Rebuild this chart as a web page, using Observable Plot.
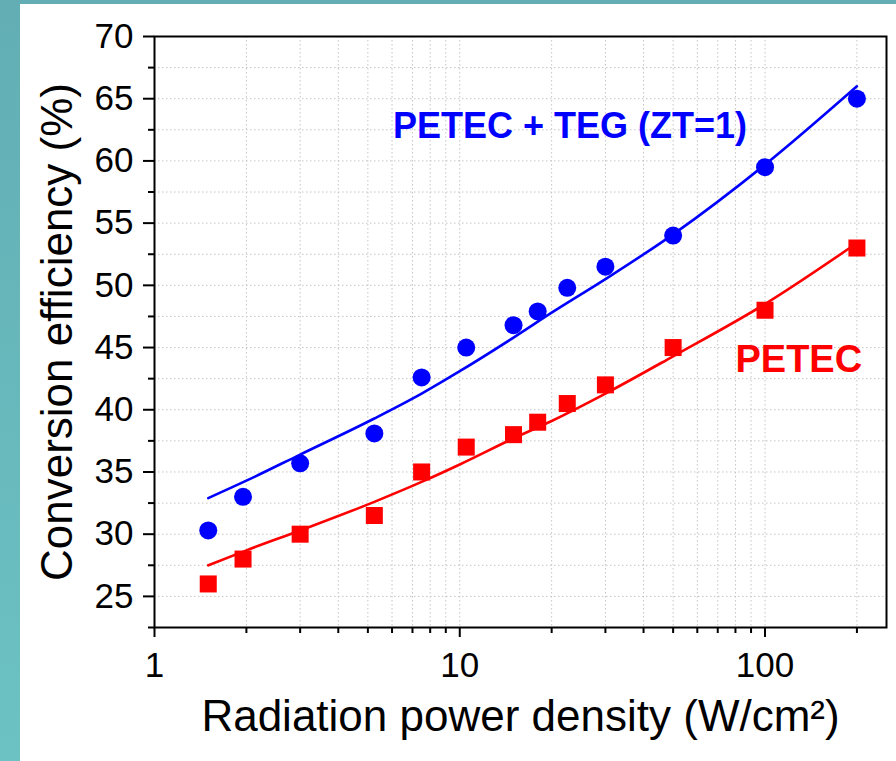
<!DOCTYPE html>
<html><head><meta charset="utf-8">
<script src="https://cdn.jsdelivr.net/npm/d3@7"></script>
<script src="https://cdn.jsdelivr.net/npm/@observablehq/plot@0.6"></script>
<style>
html,body{margin:0;padding:0;overflow:hidden;background:#fff;}
#bg{position:relative;width:896px;height:761px;background:linear-gradient(180deg,#62aeb4 0%,#6cc2c3 100%);}
#panel{position:absolute;left:20px;top:4px;width:876px;height:757px;background:#fff;}
#panel svg{display:block;}
</style></head><body>
<div id="bg"><div id="panel"></div></div>
<script>
// ---- data ----
const power = [1.5, 1.95, 3, 5.25, 7.5, 10.5, 15, 18, 22.5, 30, 50, 100, 200];
const effTeg = [30.3, 33.0, 35.7, 38.1, 42.6, 45.0, 46.8, 47.9, 49.8, 51.5, 54.0, 59.5, 65.0];
const effPetec = [26.0, 28.0, 30.0, 31.5, 35.0, 37.0, 38.0, 39.0, 40.5, 42.0, 45.0, 48.0, 53.0];

// fitted curves
const fitX = [1.5, 2, 3, 5.25, 7.5, 10, 15, 20, 30, 50, 100, 200];
const fitTegY = [32.9, 34.3, 36.4, 39.3, 41.3, 43.1, 45.8, 47.8, 50.5, 54.1, 59.7, 66.0];
const fitPetecY = [27.5, 28.7, 30.3, 32.6, 34.2, 35.6, 37.7, 39.1, 41.3, 44.3, 48.5, 53.4];

const seriesLabels = ["PETEC + TEG (ZT=1)", "PETEC"];
const labelX = [6.04, 80];
const labelY = [62.8, 44.0];

const xMajor = [1, 10, 100];
const xMinor = [2, 3, 4, 5, 6, 7, 8, 9, 20, 30, 40, 50, 60, 70, 80, 90, 200];
const yMajor = [25, 30, 35, 40, 45, 50, 55, 60, 65, 70];
const yMinor = [22.5, 27.5, 32.5, 37.5, 42.5, 47.5, 52.5, 57.5, 62.5, 67.5];

const xTitle = "Radiation power density (W/cm²)";
const yTitle = "Conversion efficiency (%)";

// ---- build ----
const FONT = "'Liberation Sans', Arial, Helvetica, sans-serif";
const BLUE = "#0000ff", RED = "#ff0000";
const tegPts = power.map((p, i) => ({x: p, y: effTeg[i]}));
const petecPts = power.map((p, i) => ({x: p, y: effPetec[i]}));
const tegFit = fitX.map((p, i) => ({x: p, y: fitTegY[i]}));
const petecFit = fitX.map((p, i) => ({x: p, y: fitPetecY[i]}));
const labels = seriesLabels.map((t, i) => ({t, x: labelX[i], y: labelY[i], c: [BLUE, RED][i], s: [36, 38][i]}));
const grid = {stroke: "#c4c4c4", strokeOpacity: 1, strokeDasharray: "1.5,2.5", strokeWidth: 1};

const plot = Plot.plot({
  width: 876, height: 757,
  marginLeft: 134, marginTop: 32, marginRight: 10, marginBottom: 134,
  style: {background: "transparent", fontFamily: FONT, color: "black"},
  x: {type: "log", domain: [1, 250]},
  y: {domain: [22.5, 70]},
  marks: [
    Plot.gridX(xMajor.concat(xMinor), grid),
    Plot.gridY(yMajor.concat(yMinor), grid),
    Plot.line(tegFit, {x: "x", y: "y", stroke: BLUE, strokeWidth: 2.6, curve: "monotone-x"}),
    Plot.line(petecFit, {x: "x", y: "y", stroke: RED, strokeWidth: 2.6, curve: "monotone-x"}),
    Plot.dot(tegPts, {x: "x", y: "y", r: 9, fill: BLUE, symbol: "circle"}),
    Plot.dot(petecPts, {x: "x", y: "y", r: 9.6, fill: RED, symbol: "square"}),
    Plot.frame({stroke: "black", strokeWidth: 2}),
    Plot.axisX({ticks: xMajor, tickSize: 10, tickPadding: 15, tickFormat: d => String(d), fontSize: 35, fontFamily: FONT, strokeWidth: 2, label: null}),
    Plot.axisX({ticks: xMinor, tickSize: 6, tickFormat: () => "", strokeWidth: 2, label: null}),
    Plot.axisY({ticks: yMajor, tickSize: 11, tickPadding: 10, tickFormat: d => String(d), fontSize: 35, fontFamily: FONT, strokeWidth: 2, label: null}),
    Plot.axisY({ticks: yMinor, tickSize: 6, tickFormat: () => "", strokeWidth: 2, label: null}),
    Plot.text(labels, {x: "x", y: "y", text: "t", fill: "c", fontSize: "s", fontWeight: "bold", textAnchor: "start", lineAnchor: "middle", fontFamily: FONT}),
    Plot.text([xTitle], {text: d => d, frameAnchor: "bottom", textAnchor: "middle", lineAnchor: "bottom", dy: 103, fontSize: 44, fontFamily: FONT, fill: "black"}),
    Plot.text([yTitle], {text: d => d, frameAnchor: "left", textAnchor: "middle", rotate: -90, lineAnchor: "bottom", dx: -83, fontSize: 44, fontFamily: FONT, fill: "black"})
  ]
});
document.getElementById("panel").appendChild(plot);
</script>
</body></html>
